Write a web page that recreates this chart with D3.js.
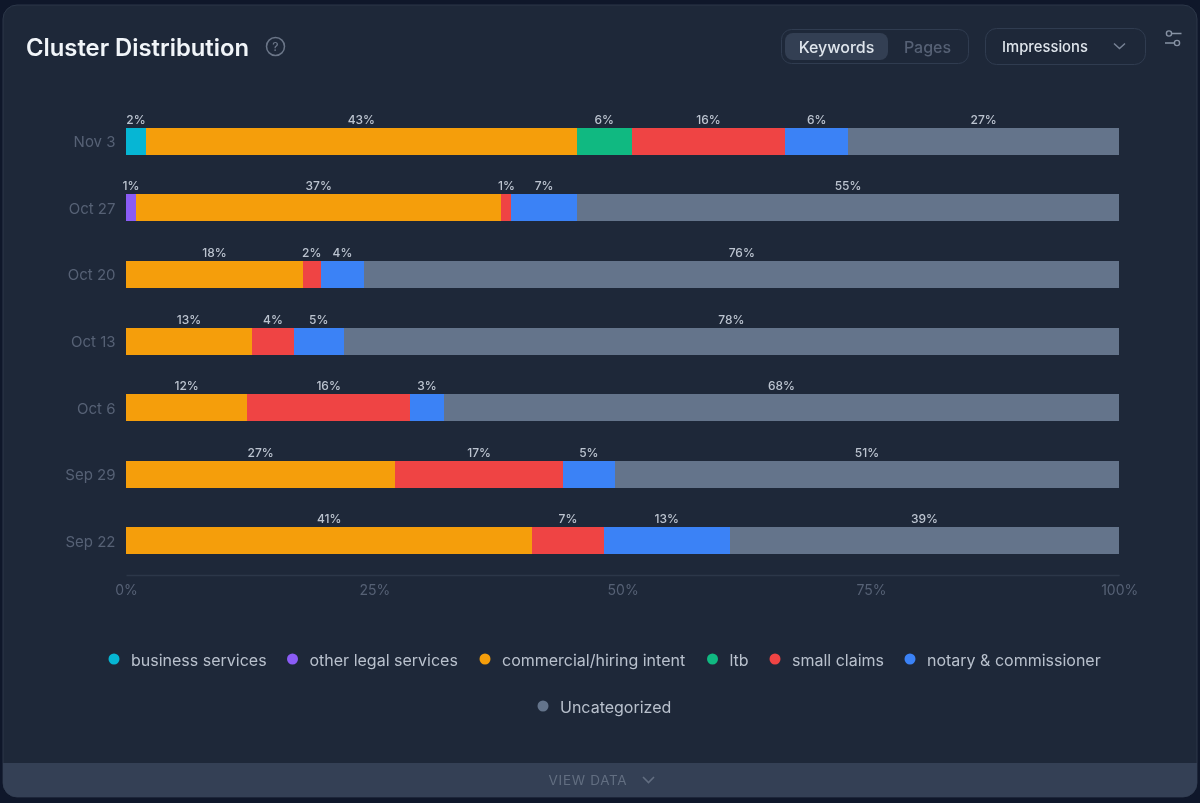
<!DOCTYPE html>
<html><head><meta charset="utf-8">
<script src="https://cdn.jsdelivr.net/npm/d3@7"></script>
<style>
html,body{margin:0;padding:0;background:#0f172a;overflow:hidden}
svg{display:block;font-family:Inter,"Noto Sans",sans-serif;filter:blur(.45px)}
</style></head><body><div id="chart"></div>
<script>
const dates = ["Nov 3","Oct 27","Oct 20","Oct 13","Oct 6","Sep 29","Sep 22"];
const seriesNames = ["business services","other legal services","commercial/hiring intent","ltb","small claims","notary & commissioner","Uncategorized"];
const seriesColors = ["#06b6d4","#8b5cf6","#f59e0b","#10b981","#ef4444","#3b82f6","#64748b"];
const businessServices = [2,0,0,0,0,0,0];
const otherLegal = [0,1,0,0,0,0,0];
const commercialHiring = [43.4,36.8,17.8,12.7,12.2,27.1,40.9];
const ltb = [5.5,0,0,0,0,0,0];
const smallClaims = [15.5,1,1.8,4.2,16.4,16.9,7.2];
const notary = [6.3,6.6,4.4,5,3.4,5.2,12.7];
const uncategorized = [27.3,54.6,76,78.1,68,50.8,39.2];
const seriesValues = [businessServices,otherLegal,commercialHiring,ltb,smallClaims,notary,uncategorized];
const xTicks = [0,25,50,75,100];
const legendRows = [[0,1,2,3,4,5],[6]];

const W=1200,H=803;
const svg=d3.select("#chart").append("svg").attr("width",W).attr("height",H);
svg.append("rect").attr("width",W).attr("height",H).attr("fill","#0f172a");
// card
svg.append("rect").attr("x",3).attr("y",5).attr("width",1194).attr("height",792).attr("rx",14)
  .attr("fill","#1e2839").attr("stroke","#2c3749").attr("stroke-width",1);
const clip=svg.append("clipPath").attr("id","card");
clip.append("rect").attr("x",3).attr("y",5).attr("width",1194).attr("height",792).attr("rx",14);
svg.append("rect").attr("x",3).attr("y",763).attr("width",1194).attr("height",34).attr("fill","#344055").attr("clip-path","url(#card)");
const foot=svg.append("g");
foot.append("text").attr("x",588).attr("y",785).attr("text-anchor","middle").attr("font-size",13.5).attr("letter-spacing",.7).attr("fill","#626e81").text("VIEW DATA");
foot.append("path").attr("d","M643 777l5.5 5.5 5.5-5.5").attr("fill","none").attr("stroke","#626e81").attr("stroke-width",1.6);

// header
svg.append("text").attr("x",26).attr("y",56).attr("font-size",23.8).attr("font-weight",600).attr("fill","#f1f5f9").text("Cluster Distribution");
svg.append("circle").attr("cx",275.5).attr("cy",46.5).attr("r",9).attr("fill","none").attr("stroke","#6b7688").attr("stroke-width",1.5);
svg.append("text").attr("x",275.5).attr("y",51).attr("text-anchor","middle").attr("font-size",12).attr("font-weight",500).attr("fill","#6b7688").text("?");
svg.append("rect").attr("x",781.5).attr("y",29.5).attr("width",187).attr("height",34).attr("rx",10).attr("fill","none").attr("stroke","#303c50");
svg.append("rect").attr("x",785).attr("y",33).attr("width",103).attr("height",27).attr("rx",8).attr("fill","#333f53");
svg.append("text").attr("x",836.5).attr("y",53).attr("text-anchor","middle").attr("font-size",16).attr("font-weight",500).attr("fill","#dfe5ec").text("Keywords");
svg.append("text").attr("x",927.5).attr("y",53).attr("text-anchor","middle").attr("font-size",16).attr("font-weight",500).attr("fill","#566175").text("Pages");
svg.append("rect").attr("x",985.5).attr("y",28.5).attr("width",160).attr("height",36).attr("rx",11).attr("fill","none").attr("stroke","#303c50");
svg.append("text").attr("x",1002).attr("y",52).attr("font-size",14.8).attr("font-weight",500).attr("fill","#dfe5ec").text("Impressions");
svg.append("path").attr("d","M1114 43.5l5.5 5 5.5-5").attr("fill","none").attr("stroke","#778295").attr("stroke-width",1.5);
const ic=svg.append("g").attr("fill","none").attr("stroke","#8792a4").attr("stroke-width",1.4);
ic.append("circle").attr("cx",1169).attr("cy",33.5).attr("r",2.6);
ic.append("path").attr("d","M1172 33.5h9.5M1165 43h9");
ic.append("circle").attr("cx",1177).attr("cy",43).attr("r",2.6);

// scales
const x=d3.scaleLinear().domain([0,100]).range([126,1119.2]);
const y=d3.scaleBand().domain(dates).range([108.02,574.22]).paddingInner(.594).paddingOuter(.297);

// stacked bars
const rows=dates.map((d,i)=>{const o={date:d};seriesNames.forEach((s,j)=>o[s]=seriesValues[j][i]);return o;});
const stacked=d3.stack().keys(seriesNames)(rows);
const fmt=v=>d3.format(".0f")(v)+"%";
const layers=svg.selectAll("g.layer").data(stacked).join("g").attr("class","layer").attr("fill",(d,i)=>seriesColors[i]);
layers.selectAll("rect").data(d=>d.filter(p=>p[1]-p[0]>0)).join("rect")
  .attr("x",p=>x(p[0])).attr("width",p=>x(p[1])-x(p[0]))
  .attr("y",p=>y(p.data.date)).attr("height",y.bandwidth())
  .attr("shape-rendering","crispEdges");
layers.selectAll("text").data(d=>d.filter(p=>p[1]-p[0]>0)).join("text")
  .attr("x",p=>(x(p[0])+x(p[1]))/2).attr("y",p=>y(p.data.date)-4)
  .attr("text-anchor","middle").attr("font-size",12).attr("font-weight",500).attr("fill","#bcc4d0")
  .text(p=>fmt(p[1]-p[0]));

// axes
const yAxis=svg.append("g").attr("transform","translate(126,1)").call(d3.axisLeft(y).tickSize(0).tickPadding(10.5));
yAxis.select(".domain").remove();
yAxis.selectAll("text").attr("font-size",15).attr("font-family","Inter").attr("fill","#566175");
const xAxis=svg.append("g").attr("transform","translate(0,575)").call(d3.axisBottom(x).tickValues(xTicks).tickFormat(d=>d+"%").tickSize(0).tickPadding(10));
xAxis.select(".domain").attr("stroke","#2c3749").attr("stroke-width",1.5);
xAxis.selectAll("text").attr("font-size",14).attr("font-family","Inter").attr("fill","#566175");

// legend
const legendX=[114,292.5,485,712.5,775,910,543], legendY=[660,707];
legendRows.forEach((r,ri)=>r.forEach(i=>{
  const g=svg.append("g");
  g.append("circle").attr("cx",legendX[i]).attr("cy",legendY[ri]-1).attr("r",5.5).attr("fill",seriesColors[i]);
  g.append("text").attr("x",legendX[i]+17).attr("y",legendY[ri]+6).attr("font-size",16).attr("fill","#b9c1cd").text(seriesNames[i]);
}));
</script></body></html>
